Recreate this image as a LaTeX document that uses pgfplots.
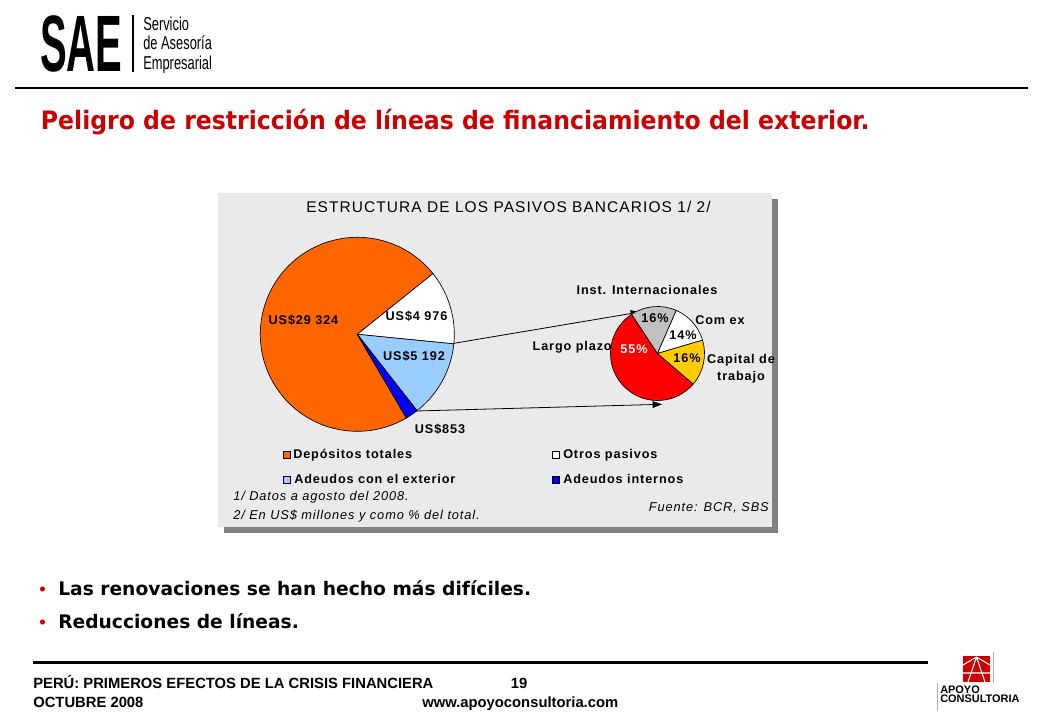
\documentclass[border=0pt]{standalone}
\usepackage{pgfplots}
\pgfplotsset{compat=1.18}
\usepackage{pgfplotstable}
\usetikzlibrary{arrows.meta}
\usepackage{fontspec}
\setmainfont{Liberation Sans}
\newfontfamily\tahoma{DejaVu Sans}
\newfontfamily\chartfont[LetterSpace=7]{Liberation Sans}

\definecolor{titlered}{HTML}{CC0000}
\definecolor{boxgray}{HTML}{EAEAEA}
\definecolor{shadowgray}{HTML}{808080}
\definecolor{cDep}{HTML}{FF6600}
\definecolor{cOtr}{HTML}{FFFFFF}
\definecolor{cExt}{HTML}{99CCFF}
\definecolor{cInt}{HTML}{0000EE}
\definecolor{cLargo}{HTML}{FF0000}
\definecolor{cInst}{HTML}{C0C0C0}
\definecolor{cComex}{HTML}{FFFFFF}
\definecolor{cCap}{HTML}{FFCC00}

% pasivos bancarios, US$ millones
\pgfplotstableread{
serie valor color
Depositos 29324 cDep
Otros 4976 cOtr
AdeudExt 5192 cExt
AdeudInt 853 cInt
}\pasivos

% adeudos con el exterior, % del total
\pgfplotstableread{
serie valor color
LargoPlazo 55 cLargo
InstIntern 16 cInst
Comex 14 cComex
CapTrabajo 16 cCap
}\externos

\newcommand{\fs}[1]{\fontsize{#1pt}{#1pt}\selectfont}

% pie from a table: #1 table, #2 #3 centre (axis cs), #4 radius, #5 start angle; clockwise
\newcommand{\pie}[5]{%
  \pgfplotstablegetrowsof{#1}%
  \edef\nlast{\the\numexpr\pgfplotsretval-1\relax}%
  \gdef\ptot{0}%
  \foreach \i in {0,...,\nlast}{%
    \pgfplotstablegetelem{\i}{valor}\of{#1}%
    \xdef\ptot{\fpeval{\ptot+\pgfplotsretval}}}%
  \xdef\pa{#5}%
  \foreach \i in {0,...,\nlast}{%
    \pgfplotstablegetelem{\i}{valor}\of{#1}%
    \xdef\pb{\fpeval{round(\pa-360*\pgfplotsretval/\ptot,3)}}%
    \pgfplotstablegetelem{\i}{color}\of{#1}%
    \edef\cmd{\noexpand\filldraw[fill=\pgfplotsretval,draw=black,line width=0.5pt]
      (axis cs:#2,#3) -- ++(\pa:#4) arc[start angle=\pa,end angle=\pb,radius=#4] -- cycle;}%
    \cmd
    \xdef\pa{\pb}}%
}

\begin{document}
\begin{tikzpicture}
\begin{axis}[
    width=780pt, height=540pt, scale only axis,
    xmin=0, xmax=1040, ymin=0, ymax=720, y dir=reverse,
    hide axis, clip=false]
\fill[white] (axis cs:0,0) rectangle (axis cs:1040,720);

% cabecera
\node[anchor=base west,inner sep=0pt] at (axis cs:40,72)
  {\scalebox{0.5}[1]{\bfseries\fs{60}SAE}};
\draw[line width=1.4pt] (axis cs:133,15) -- (axis cs:133,72);
\node[anchor=base west,inner sep=0pt] at (axis cs:143,30.5) {\scalebox{0.69}[1]{\fs{14}Servicio}};
\node[anchor=base west,inner sep=0pt] at (axis cs:143,50) {\scalebox{0.69}[1]{\fs{14}de Asesoría}};
\node[anchor=base west,inner sep=0pt] at (axis cs:143,69.5) {\scalebox{0.69}[1]{\fs{14}Empresarial}};
\draw[line width=1pt] (axis cs:15,88) -- (axis cs:1028,88);

\node[anchor=base west,inner sep=0pt,text=titlered] at (axis cs:40.7,130)
  {\scalebox{0.93}[1]{\tahoma\bfseries\fs{19}Peligro de restricción de líneas de financiamiento del exterior.}};

% recuadro del gráfico
\fill[shadowgray] (axis cs:224,199) rectangle (axis cs:777.5,533);
\fill[boxgray] (axis cs:218,193) rectangle (axis cs:771.5,526.5);
\node[anchor=base,inner sep=0pt] at (axis cs:508.5,213)
  {\chartfont\fs{11.6}ESTRUCTURA DE LOS PASIVOS BANCARIOS 1/ 2/};

% flechas
\draw[line width=0.6pt,-{Triangle[length=7pt,width=5pt]}] (axis cs:454,343.3) -- (axis cs:640,312);
\draw[line width=0.6pt,-{Triangle[length=7pt,width=5pt]}] (axis cs:416.3,411) -- (axis cs:662,404.3);

\pie{\pasivos}{357.3}{334.3}{72.75pt}{300.4}
\pie{\externos}{657.5}{353.5}{35.25pt}{319.5}

\begin{scope}[every node/.style={inner sep=0pt,font=\chartfont\bfseries\fs{9.5}}]
\node[anchor=base] at (axis cs:303.5,324.3) {US\$29 324};
\node[anchor=base] at (axis cs:416.5,320.7) {US\$4 976};
\node[anchor=base] at (axis cs:414,360.7) {US\$5 192};
\node[anchor=base] at (axis cs:440,434) {US\$853};

\node[anchor=base] at (axis cs:647,295) {Inst. Internacionales};
\node[anchor=base east] at (axis cs:612,351) {Largo plazo};
\node[anchor=base west] at (axis cs:695,324.3) {Com ex};
\node[anchor=base] at (axis cs:741,363.3) {Capital de};
\node[anchor=base] at (axis cs:741,380.7) {trabajo};
\node[anchor=base] at (axis cs:655,322.7) {16\%};
\node[anchor=base] at (axis cs:683,340) {14\%};
\node[anchor=base] at (axis cs:687,362.7) {16\%};
\node[anchor=base,text=white] at (axis cs:634,353.3) {55\%};

% leyenda
\filldraw[fill=cDep,draw=black,line width=0.4pt] (axis cs:283,451.5) rectangle (axis cs:290,458.3);
\filldraw[fill=cOtr,draw=black,line width=0.4pt] (axis cs:552.5,451.5) rectangle (axis cs:559.5,458.3);
\filldraw[fill=cExt,draw=black,line width=0.4pt] (axis cs:283,476.5) rectangle (axis cs:290,483.3);
\filldraw[fill=cInt,draw=black,line width=0.4pt] (axis cs:552.5,476.5) rectangle (axis cs:559.5,483.3);
\node[anchor=base west] at (axis cs:293,458.3) {Depósitos totales};
\node[anchor=base west] at (axis cs:563,458.3) {Otros pasivos};
\node[anchor=base west] at (axis cs:294,483.3) {Adeudos con el exterior};
\node[anchor=base west] at (axis cs:563,483.3) {Adeudos internos};
\end{scope}

\begin{scope}[every node/.style={inner sep=0pt,font=\chartfont\itshape\fs{9.6}}]
\node[anchor=base west] at (axis cs:233,500) {1/ Datos a agosto del 2008.};
\node[anchor=base west] at (axis cs:233,519) {2/ En US\$ millones y como \% del total.};
\node[anchor=base east] at (axis cs:769,512) {Fuente: BCR, SBS};
\end{scope}

% viñetas
\fill[titlered] (axis cs:42.5,589) circle[radius=1.9pt];
\fill[titlered] (axis cs:42.5,622) circle[radius=1.9pt];
\node[anchor=base west,inner sep=0pt] at (axis cs:58,595)
  {\tahoma\bfseries\fs{14}Las renovaciones se han hecho más difíciles.};
\node[anchor=base west,inner sep=0pt] at (axis cs:58,628)
  {\tahoma\bfseries\fs{14}Reducciones de líneas.};

% pie de página
\draw[line width=1.6pt] (axis cs:33,662.5) -- (axis cs:928,662.5);
\begin{scope}[every node/.style={inner sep=0pt,font=\bfseries\fs{11.1}}]
\node[anchor=base west] at (axis cs:33,688) {PERÚ: PRIMEROS EFECTOS DE LA CRISIS FINANCIERA};
\node[anchor=base west] at (axis cs:33,707) {OCTUBRE 2008};
\node[anchor=base] at (axis cs:519,688) {19};
\node[anchor=base west] at (axis cs:422,707) {www.apoyoconsultoria.com};
\end{scope}

% logo APOYO
\fill[titlered] (axis cs:963,656) -- (axis cs:990,656) -- (axis cs:990,682) -- (axis cs:963,682) -- cycle;
\draw[white,line width=0.8pt] (axis cs:976.5,657) -- (axis cs:963,665)
  (axis cs:976.5,657) -- (axis cs:990,665)
  (axis cs:976.5,657) -- (axis cs:968,682)
  (axis cs:976.5,657) -- (axis cs:985,682)
  (axis cs:963,673) -- (axis cs:990,673);
\draw[gray!60,line width=0.6pt] (axis cs:993,652) -- (axis cs:993,683);
\draw[gray!60,line width=0.6pt] (axis cs:937.5,683) -- (axis cs:937.5,711);
\node[anchor=base west,inner sep=0pt] at (axis cs:940,693) {\bfseries\fs{8.2}APOYO};
\node[anchor=base west,inner sep=0pt] at (axis cs:940,702) {\bfseries\fs{8.2}CONSULTORIA};
\end{axis}
\end{tikzpicture}
\end{document}
